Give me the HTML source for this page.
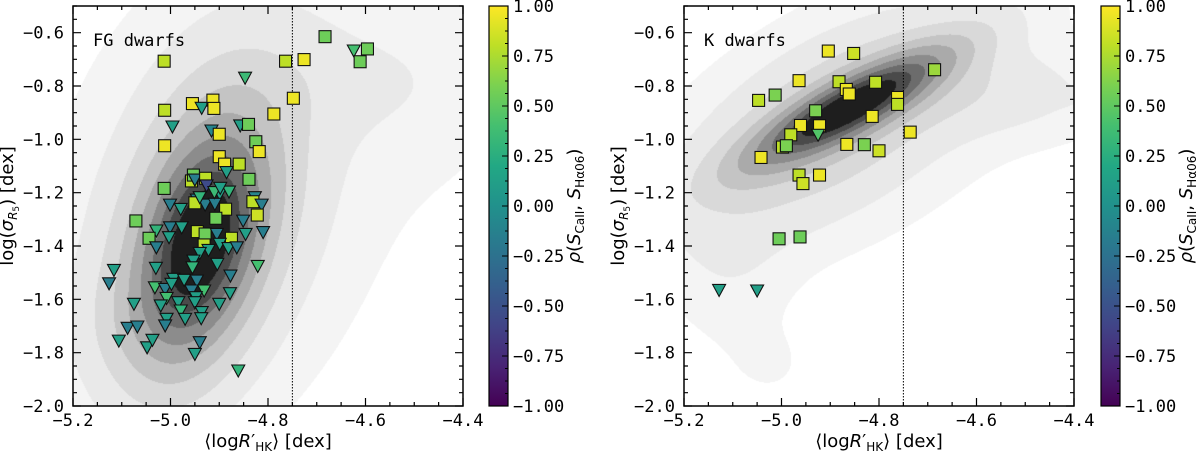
<!DOCTYPE html>
<html><head><meta charset="utf-8">
<style>
html,body{margin:0;padding:0;background:#fff;}
#wrap{position:relative;width:1200px;height:453px;overflow:hidden;}
canvas{position:absolute;left:0;top:0;}
svg{position:absolute;left:0;top:0;}
.tk{font-family:"DejaVu Sans Mono","Liberation Mono",monospace;font-size:17px;fill:#000;}
.lb{font-family:"DejaVu Sans","Liberation Sans",sans-serif;font-size:18px;fill:#000;}
</style></head>
<body>
<div id="wrap">
<canvas id="cv" width="1200" height="453"></canvas>
<svg id="sv" width="1200" height="453" xmlns="http://www.w3.org/2000/svg"></svg>
</div>
<script>
// ---- FG dwarfs data ----
const fgX=[-5.013,-4.683,-4.624,-4.596,-4.611,-4.764,-4.726,-4.847,-4.748,-4.955,-4.936,-4.913,-4.911,-5.012,-4.788,-4.996,-4.916,-4.857,-4.840,-4.900,-4.825,-4.818,-5.012,-4.900,-4.889,-4.859,-4.885,-4.839,-5.013,-4.957,-4.953,-4.950,-4.928,-4.926,-4.899,-4.880,-4.827,-4.831,-4.813,-5.001,-4.946,-4.979,-4.950,-4.929,-4.909,-4.887,-5.071,-5.029,-5.001,-4.977,-4.907,-4.822,-4.851,-5.044,-5.029,-5.003,-4.945,-4.929,-4.905,-4.875,-4.846,-4.810,-4.931,-4.922,-4.899,-4.881,-4.864,-4.940,-4.953,-4.904,-4.955,-4.821,-5.116,-5.126,-5.030,-4.994,-4.972,-4.946,-4.877,-5.032,-5.011,-4.998,-4.957,-4.931,-4.878,-4.948,-5.008,-5.075,-5.020,-4.984,-4.979,-4.970,-4.950,-4.936,-4.937,-4.900,-5.008,-5.011,-5.088,-5.068,-5.106,-5.048,-5.037,-4.940,-4.950,-4.861,-4.940,-4.910,-4.898];
const fgY=[-0.707,-0.615,-0.665,-0.661,-0.709,-0.707,-0.701,-0.767,-0.846,-0.866,-0.880,-0.853,-0.884,-0.891,-0.905,-0.950,-0.965,-0.946,-0.944,-0.981,-1.009,-1.046,-1.024,-1.065,-1.093,-1.093,-1.121,-1.150,-1.184,-1.156,-1.134,-1.149,-1.146,-1.171,-1.202,-1.194,-1.215,-1.234,-1.243,-1.243,-1.224,-1.259,-1.238,-1.243,-1.240,-1.262,-1.306,-1.340,-1.328,-1.328,-1.296,-1.284,-1.303,-1.371,-1.403,-1.365,-1.346,-1.355,-1.353,-1.371,-1.353,-1.346,-1.396,-1.413,-1.390,-1.406,-1.403,-1.424,-1.453,-1.465,-1.478,-1.473,-1.488,-1.538,-1.480,-1.521,-1.525,-1.528,-1.509,-1.553,-1.559,-1.540,-1.565,-1.565,-1.575,-1.590,-1.593,-1.615,-1.621,-1.609,-1.640,-1.671,-1.609,-1.646,-1.669,-1.615,-1.671,-1.696,-1.705,-1.700,-1.753,-1.778,-1.750,-1.759,-1.803,-1.865,-1.215,-1.196,-1.180];
const fgRho=[0.8,0.55,0.4,0.55,0.55,0.8,0.95,0.35,0.95,0.95,0.12,0.95,0.95,0.8,0.95,0.12,-0.1,0.12,0.55,0.95,0.55,0.95,0.95,0.95,0.95,0.8,0.12,0.55,0.55,0.8,0.55,-0.15,0.8,-0.55,0.12,0.3,-0.1,0.8,-0.15,-0.15,-0.15,0.12,0.8,-0.15,-0.15,0.8,0.55,0.3,-0.15,0.12,0.55,0.85,-0.15,0.55,-0.15,0.12,0.8,0.55,-0.15,0.8,0.12,-0.15,0.8,0.12,0.12,0.12,-0.15,0.12,0.12,0.12,0.3,0.4,0.12,-0.15,0.12,0.12,0.12,-0.15,-0.15,0.4,-0.15,0.12,-0.15,0.4,0.12,0.12,0.4,0.12,0.12,0.12,0.3,0.12,0.12,0.12,0.12,0.12,0.12,-0.15,-0.15,-0.15,0.12,0.12,0.12,-0.15,0.12,0.3,0.3,0.35,0.12];
const fgMarker=['s','s','v','s','s','s','s','v','s','s','v','s','s','s','s','v','v','v','s','s','s','s','s','s','s','s','v','s','s','s','s','v','s','v','v','v','v','s','v','v','v','v','s','v','v','s','s','v','v','v','s','s','v','s','v','v','s','s','v','s','v','v','s','v','v','v','v','v','v','v','v','v','v','v','v','v','v','v','v','v','v','v','v','v','v','v','v','v','v','v','v','v','v','v','v','v','v','v','v','v','v','v','v','v','v','v','v','v','v'];
// ---- K dwarfs data ----
const kX=[-4.904,-4.852,-4.686,-4.964,-4.882,-4.807,-4.867,-4.861,-5.047,-5.013,-4.762,-4.762,-4.930,-4.814,-4.961,-4.922,-4.736,-4.981,-4.925,-4.998,-4.990,-4.866,-4.830,-4.800,-5.042,-4.964,-4.922,-4.956,-5.005,-4.962,-5.128,-5.050];
const kY=[-0.669,-0.678,-0.739,-0.780,-0.784,-0.786,-0.813,-0.830,-0.854,-0.834,-0.843,-0.869,-0.893,-0.914,-0.948,-0.949,-0.973,-0.983,-0.981,-1.029,-1.024,-1.019,-1.020,-1.043,-1.068,-1.134,-1.134,-1.166,-1.373,-1.366,-1.563,-1.565];
const kRho=[0.95,0.85,0.7,0.95,0.8,0.8,0.95,0.95,0.8,0.6,0.95,0.8,0.6,0.95,0.95,0.95,0.95,0.8,0.45,0.8,0.6,0.95,0.6,0.85,0.95,0.8,0.95,0.85,0.55,0.55,0.12,0.12];
const kMarker=['s','s','s','s','s','s','s','s','s','s','s','s','s','s','s','s','s','s','v','s','s','s','s','s','s','s','s','s','s','s','v','v'];
// ---- density model components (mx,my,sx,sy,rho,amp) ----
const fgCompMx=[-4.94,-4.93,-4.90,-4.65,-5.08,-4.45,-4.85];
const fgCompMy=[-1.40,-1.30,-1.25,-0.78,-1.70,-0.80,-1.10];
const fgCompSx=[0.085,0.13,0.2,0.17,0.08,0.14,0.35];
const fgCompSy=[0.28,0.40,0.55,0.14,0.16,0.28,0.7];
const fgCompR=[0.35,0.4,0.3,0.0,0.0,0.0,0.2];
const fgCompA=[1.0,0.3,0.1,0.05,0.08,0.035,0.03];
const kCompMx=[-4.86,-4.90,-4.55,-4.43,-5.10,-5.02,-4.8];
const kCompMy=[-0.88,-0.95,-0.83,-0.84,-1.50,-1.85,-0.95];
const kCompSx=[0.14,0.2,0.17,0.03,0.08,0.06,0.35];
const kCompSy=[0.15,0.27,0.11,0.02,0.22,0.10,0.45];
const kCompR=[0.85,0.6,0.0,0.0,0.0,0.0,0.3];
const kCompA=[1.0,0.3,0.1,0.04,0.05,0.03,0.03];
const levelFrac=[0.025,0.07,0.15,0.25,0.36,0.48,0.6,0.71,0.82];
const levelGray=[255,244,233,217,196,170,140,108,74,30];
const xTicks=[-5.2,-5.0,-4.8,-4.6,-4.4];
const yTicks=[-2.0,-1.8,-1.6,-1.4,-1.2,-1.0,-0.8,-0.6];
const cbTicks=[-1.0,-0.75,-0.5,-0.25,0,0.25,0.5,0.75,1.0];
const viridis=['#440154','#482475','#414487','#355f8d','#2a788e','#21918c','#22a884','#44bf70','#7ad151','#bddf26','#fde725'];

const NS='http://www.w3.org/2000/svg';
const sv=document.getElementById('sv');
const ctx=document.getElementById('cv').getContext('2d');
function mk(tag,attrs,parent){const e=document.createElementNS(NS,tag);for(const k in attrs)e.setAttribute(k,attrs[k]);(parent||sv).appendChild(e);return e;}
function hex(h){return [parseInt(h.slice(1,3),16),parseInt(h.slice(3,5),16),parseInt(h.slice(5,7),16)];}
function vcol(r){let t=(r+1)/2;t=Math.max(0,Math.min(1,t));const f=t*10;const i=Math.min(9,Math.floor(f));const u=f-i;const a=hex(viridis[i]),b=hex(viridis[i+1]);return 'rgb('+a.map((v,k)=>Math.round(v+(b[k]-v)*u)).join(',')+')';}

const XMIN=-5.2,XMAX=-4.4,YMIN=-2.0,YMAX=-0.5;
function panel(p){
  const X=v=>p.x0+(v-XMIN)/(XMAX-XMIN)*(p.x1-p.x0);
  const Y=v=>p.y1-(v-YMIN)/(YMAX-YMIN)*(p.y1-p.y0);
  const W=p.x1-p.x0,H=p.y1-p.y0;
  const img=ctx.createImageData(W,H);
  const dens=new Float32Array(W*H);let mx=0;
  for(let j=0;j<H;j++){const yv=YMAX-(j+0.5)/H*(YMAX-YMIN);
    for(let i=0;i<W;i++){const xv=XMIN+(i+0.5)/W*(XMAX-XMIN);let d=0;
      for(let c=0;c<p.cmx.length;c++){const dx=(xv-p.cmx[c])/p.csx[c],dy=(yv-p.cmy[c])/p.csy[c],r=p.cr[c];
        d+=p.ca[c]*Math.exp(-(dx*dx-2*r*dx*dy+dy*dy)/(2*(1-r*r)));}
      dens[j*W+i]=d;if(d>mx)mx=d;}}
  for(let k=0;k<W*H;k++){const f=dens[k]/mx;let l=0;while(l<levelFrac.length&&f>=levelFrac[l])l++;const g=levelGray[l];
    img.data[4*k]=g;img.data[4*k+1]=g;img.data[4*k+2]=g;img.data[4*k+3]=255;}
  ctx.putImageData(img,p.x0,p.y0);
  const g=mk('g',{});
  
  const dl=mk('line',{x1:X(-4.75),x2:X(-4.75),y1:p.y0,y2:p.y1,stroke:'#000','stroke-width':1,'stroke-dasharray':'1.5,1.5'},g);
  
  for(let i=0;i<p.xs.length;i++){const cx=X(p.xs[i]),cy=Y(p.ys[i]);let e;
    if(p.ms[i]==='s'){e=mk('rect',{x:cx-6,y:cy-6,width:12,height:12,fill:vcol(p.rs[i]),stroke:'#111','stroke-width':1.1},g);}
    else{e=mk('polygon',{points:(cx-6.5)+','+(cy-5)+' '+(cx+6.5)+','+(cy-5)+' '+cx+','+(cy+7),fill:vcol(p.rs[i]),stroke:'#111','stroke-width':1.1},g);}
    
    }
  const fr=mk('rect',{x:p.x0,y:p.y0,width:W,height:H,fill:'none',stroke:'#000','stroke-width':1.5},g);
  
  let tp='';
  for(let v=XMIN;v<=XMAX+1e-9;v+=0.05){const x=X(v);const maj=Math.abs(Math.round(v/0.2)*0.2-v)<1e-6;const L=maj?8:4;tp+='M'+x+' '+p.y1+'v'+(-L)+'M'+x+' '+p.y0+'v'+L;}
  for(let v=YMIN;v<=YMAX+1e-9;v+=0.05){const y=Y(v);const maj=Math.abs(Math.round(v/0.2)*0.2-v)<1e-6;const L=maj?8:4;tp+='M'+p.x0+' '+y+'h'+L+'M'+p.x1+' '+y+'h'+(-L);}
  const tk=mk('path',{d:tp,stroke:'#000','stroke-width':1.2,fill:'none'},g);
  
  xTicks.forEach(v=>{const t=mk('text',{x:X(v),y:426,'text-anchor':'middle',class:'tk'},g);t.textContent=v.toFixed(1).replace('-','−');
    });
  yTicks.forEach(v=>{const t=mk('text',{x:p.x0-9,y:Y(v)+6,'text-anchor':'end',class:'tk'},g);t.textContent=v.toFixed(1).replace('-','−');
    });
  const ti=mk('text',{x:p.x0+20,y:46,class:'tk'},g);ti.textContent=p.title;
  
  const xl=mk('text',{x:(p.x0+p.x1)/2,y:447,'text-anchor':'middle',class:'lb'},g);
  xl.innerHTML='⟨log<tspan font-style="italic">R</tspan>′<tspan font-size="12" dy="4">HK</tspan><tspan dy="-4">⟩  [dex]</tspan>';
  
  const yl=mk('text',{x:0,y:0,'text-anchor':'middle',class:'lb',transform:'translate('+(p.x0-60)+','+((p.y0+p.y1)/2)+') rotate(-90)'},g);
  yl.innerHTML='log(<tspan font-style="italic">σ</tspan><tspan font-size="12" dy="4" font-style="italic">R</tspan><tspan font-size="9" dy="2">5</tspan><tspan dy="-6">)  [dex]</tspan>';
  
  const cb=mk('g',{},g);
  const gid='grad'+p.name;const defs=mk('defs',{},cb);const lg=mk('linearGradient',{id:gid,x1:0,y1:1,x2:0,y2:0},defs);
  viridis.forEach((c,i)=>mk('stop',{offset:i/10,'stop-color':c},lg));
  mk('rect',{x:p.cb0,y:p.y0,width:p.cb1-p.cb0,height:H,fill:'url(#'+gid+')',stroke:'#000','stroke-width':1.2},cb);
  const CY=v=>p.y1-(v+1)/2*H;let cp='';
  for(let k=0;k<=32;k++){const v=-1+k/16;const y=CY(v);cp+='M'+p.cb1+' '+y+'h'+(k%4===0?-6:-3);}
  mk('path',{d:cp,stroke:'#000','stroke-width':1.1},cb);
  cbTicks.forEach(v=>{const t=mk('text',{x:p.cb1+5,y:CY(v)+6,class:'tk'},cb);t.textContent=v.toFixed(2).replace('-','−');
    });
  const cl=mk('text',{x:0,y:0,'text-anchor':'middle',class:'lb',transform:'translate('+(p.cb1+72)+','+((p.y0+p.y1)/2)+') rotate(-90)'},cb);
  cl.innerHTML='<tspan font-style="italic">ρ</tspan>(<tspan font-style="italic">S</tspan><tspan font-size="12" dy="4">CaII</tspan><tspan dy="-4">, </tspan><tspan font-style="italic">S</tspan><tspan font-size="12" dy="4">Hα06</tspan><tspan dy="-4">)</tspan>';
  
}
panel({name:'fg',title:'FG dwarfs',x0:73,x1:463,y0:6,y1:406,cb0:489,cb1:508,xs:fgX,ys:fgY,rs:fgRho,ms:fgMarker,
  cmx:fgCompMx,cmy:fgCompMy,csx:fgCompSx,csy:fgCompSy,cr:fgCompR,ca:fgCompA});
panel({name:'k',title:'K dwarfs',x0:684,x1:1074,y0:6,y1:406,cb0:1101,cb1:1120,xs:kX,ys:kY,rs:kRho,ms:kMarker,
  cmx:kCompMx,cmy:kCompMy,csx:kCompSx,csy:kCompSy,cr:kCompR,ca:kCompA});
</script>
</body></html>
